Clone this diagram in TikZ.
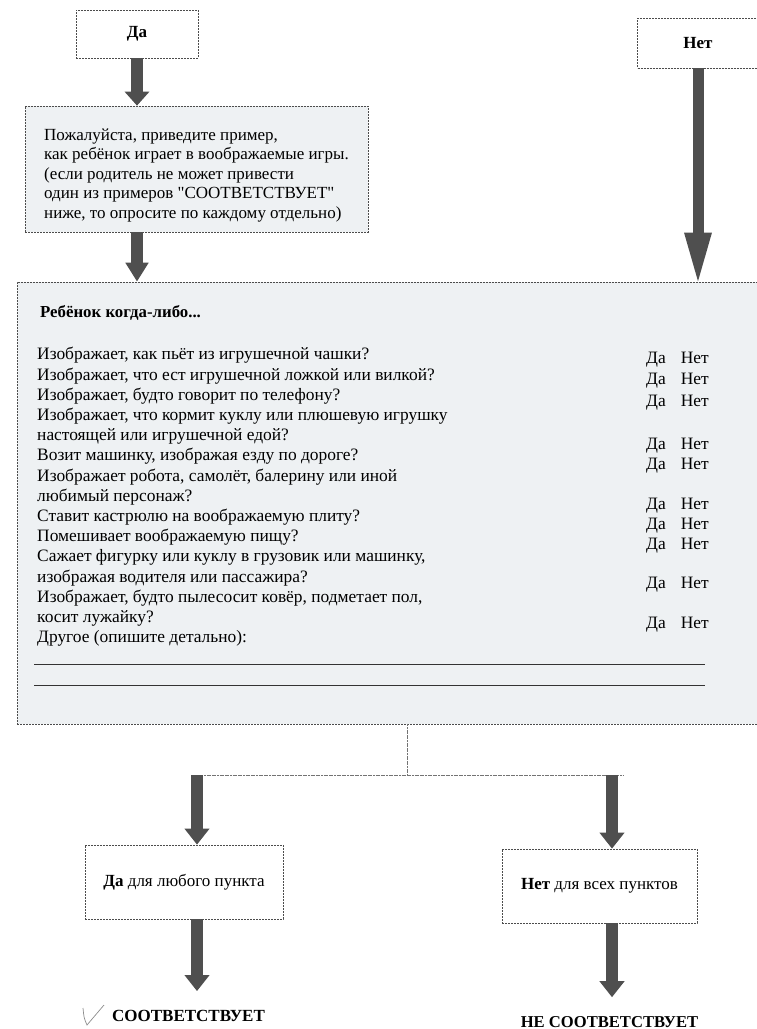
\documentclass[tikz,border=0pt]{standalone}
\usepackage{fontspec}
\setmainfont{Liberation Serif}[Ligatures=TeXOff]
\usepackage{xcolor}
\usepackage{tikz}
\usetikzlibrary{arrows.meta}

\definecolor{panelfill}{HTML}{EEF1F3}
\definecolor{arrowgray}{HTML}{4F4F4F}

\tikzset{
  frame/.style={draw=black!70, dash pattern=on 2pt off 1pt, line width=0.7pt, inner sep=0pt},
  blockarrow/.style={draw=arrowgray, line width=12pt, -{Triangle[length=16pt,width=24pt]}},
  longarrow/.style={draw=arrowgray, line width=11pt, -{Triangle[length=54pt,width=24pt]}},
  thinline/.style={draw=black!55, line width=0.6pt, dash pattern=on 2pt off 0.6pt},
  body/.style={font=\fontsize{17.4}{20.2}\selectfont, inner sep=0pt, align=left},
  answer/.style={anchor=west, inner sep=0pt, font=\fontsize{17.4}{20}\selectfont},
}
\newcommand{\danet}{Да\hspace{15pt}Нет}

\begin{document}
\begin{tikzpicture}[yscale=-1, x=1pt, y=1pt]
    \useasboundingbox (0,0) rectangle (757,1029);
    \fill[white] (0,0) rectangle (757,1029);
    % top row
    \node[frame, minimum width=122pt, minimum height=48pt, font=\fontsize{17}{20}\selectfont\bfseries] (yes) at (137,34) {Да};
    \node[frame, minimum width=121pt, minimum height=50pt, font=\fontsize{17}{20}\selectfont\bfseries] (no) at (698,43) {Нет};
    \node[frame, fill=panelfill, minimum width=343pt, minimum height=126pt, body, font=\fontsize{17}{19.5}\selectfont] (ask) at (196.5,169)
      {\rule{0pt}{24pt}Пожалуйста, приведите пример,\\
       как ребёнок играет в воображаемые игры.\\
       (если родитель не может привести\\
       один из примеров "СООТВЕТСТВУЕТ"\\
       ниже, то опросите по каждому отдельно)};
    % the list
    \node[frame, fill=panelfill, minimum width=760pt, minimum height=442pt] (panel) at (397,503) {};
    \node[anchor=west, inner sep=0pt, font=\fontsize{16.8}{18}\selectfont\bfseries] (head) at (40,313) {Ребёнок когда-либо...};
    \node[body, anchor=west] (items) at (37,497)
      {Изображает, как пьёт из игрушечной чашки?\\
       Изображает, что ест игрушечной ложкой или вилкой?\\
       Изображает, будто говорит по телефону?\\
       Изображает, что кормит куклу или плюшевую игрушку\\
       настоящей или игрушечной едой?\\
       Возит машинку, изображая езду по дороге?\\
       Изображает робота, самолёт, балерину или иной\\
       любимый персонаж?\\
       Ставит кастрюлю на воображаемую плиту?\\
       Помешивает воображаемую пищу?\\
       Сажает фигурку или куклу в грузовик или машинку,\\
       изображая водителя или пассажира?\\
       Изображает, будто пылесосит ковёр, подметает пол,\\
       косит лужайку?\\
       Другое (опишите детально):};
    \node[answer] (dn1) at (646,360) {\danet};
    \node[answer] (dn2) at (646,381) {\danet};
    \node[answer] (dn3) at (646,403) {\danet};
    \node[answer] (dn4) at (646,446) {\danet};
    \node[answer] (dn5) at (646,466) {\danet};
    \node[answer] (dn6) at (646,506) {\danet};
    \node[answer] (dn7) at (646,526) {\danet};
    \node[answer] (dn8) at (646,546) {\danet};
    \node[answer] (dn9) at (646,585) {\danet};
    \node[answer] (dn10) at (646,625) {\danet};
    \draw[black!80, line width=0.8pt] (34,664) -- (705,664);
    \draw[black!80, line width=0.8pt] (34,685) -- (705,685);
    % arrows at the top
    \draw[blockarrow, -{Triangle[length=14pt,width=24pt]}] (yes) -- (yes |- ask.north);
    \draw[blockarrow, -{Triangle[length=19pt,width=22pt]}] (ask.south -| yes) -- (yes |- panel.north);
    \draw[longarrow, shorten >=-5pt] (no) -- (no |- panel.north);
    % split below the list
    \coordinate (split) at (407,775);
    \coordinate (lt) at (197,775);
    \coordinate (rt) at (612,775);
    \draw[thinline] (split |- panel.south) -- (split);
    \draw[thinline] ([xshift=-6pt]lt) -- ([xshift=11pt]rt);
    \node[frame, minimum width=198pt, minimum height=74pt, font=\fontsize{17}{18}\selectfont] (anyyes) at (184,882) {\textbf{Да} для любого пункта};
    \node[frame, minimum width=195pt, minimum height=74pt, font=\fontsize{17}{18}\selectfont] (allno) at (599.5,886) {\textbf{Нет} для всех пунктов};
    \draw[blockarrow] (lt) -- (lt |- anyyes.north);
    \draw[blockarrow] (rt) -- (rt |- allno.north);
    \node[inner sep=0pt, font=\fontsize{17}{18}\selectfont\bfseries] (fits) at (188.5,1016) {СООТВЕТСТВУЕТ};
    \node[inner sep=0pt, font=\fontsize{16.6}{18}\selectfont\bfseries] (nofits) at (609.5,1022) {НЕ СООТВЕТСТВУЕТ};
    \draw[blockarrow, shorten >=19pt] (anyyes.south -| lt) -- (lt |- fits.north);
    \draw[blockarrow, shorten >=19pt] (allno.south -| rt) -- (rt |- nofits.north);
    \draw[black!45, line width=0.7pt] (83,1008) .. controls (84,1018) .. (87,1025) -- (104,1005);
  \end{tikzpicture}
\end{document}
